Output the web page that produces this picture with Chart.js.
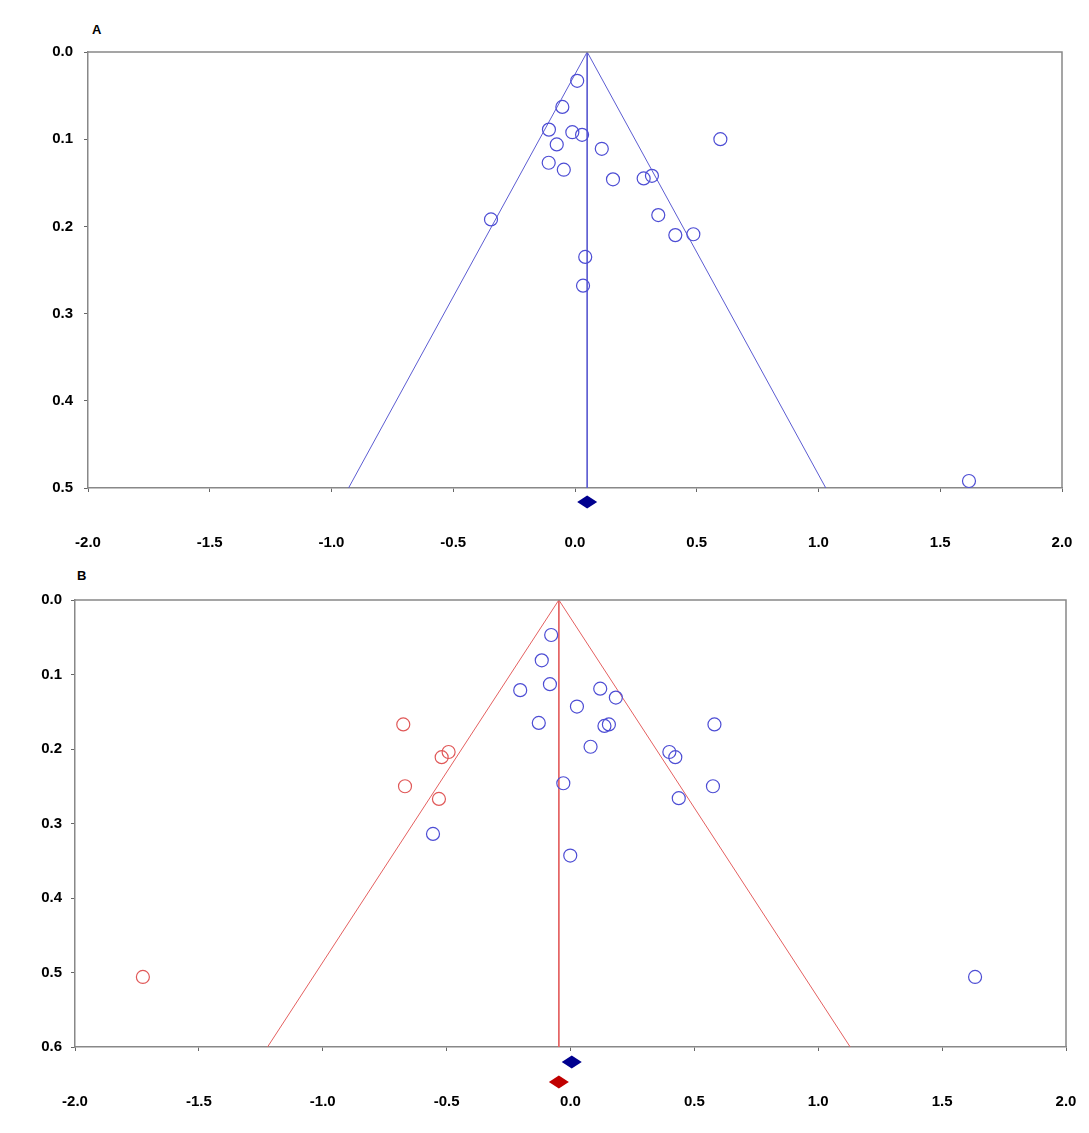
<!DOCTYPE html>
<html>
<head>
<meta charset="utf-8">
<script src="https://cdn.jsdelivr.net/npm/chart.js@4.4.0/dist/chart.umd.min.js"></script>
<style>
body{margin:0;background:#fff;width:1089px;height:1133px;position:relative;overflow:hidden;font-family:"Liberation Sans",Arial,sans-serif}
.panel{position:absolute;left:0;width:1089px}
.tag{position:absolute;font-weight:bold;font-size:13px;color:#000}
</style>
</head>
<body>
<div class="tag" style="left:92px;top:22px">A</div>
<div class="panel" style="top:0;height:560px"><canvas id="ca"></canvas></div>
<div class="tag" style="left:77px;top:568px">B</div>
<div class="panel" style="top:560px;height:573px"><canvas id="cb"></canvas></div>
<script>
// panel A - observed studies (effect size vs standard error)
const aEffect = [0.009,-0.052,-0.107,-0.011,0.029,-0.075,0.110,0.597,-0.108,-0.046,0.156,0.282,0.316,-0.345,0.342,0.412,0.486,0.042,0.033,1.618]
const aSE     = [0.033,0.063,0.089,0.092,0.095,0.106,0.111,0.100,0.127,0.135,0.146,0.145,0.142,0.192,0.187,0.210,0.209,0.235,0.268,0.492]
const aMean = 0.05
const aSEMax = 0.5

// panel B - observed + trim-and-fill imputed studies
const bEffect = [-0.078,-0.116,-0.083,-0.203,0.120,0.183,0.026,-0.128,0.137,0.155,0.081,0.399,0.423,-0.029,0.437,-0.555,-0.001,0.581,0.575,1.633]
const bSE     = [0.047,0.081,0.113,0.121,0.119,0.131,0.143,0.165,0.169,0.167,0.197,0.204,0.211,0.246,0.266,0.314,0.343,0.167,0.250,0.506]
const bFillEffect = [-0.675,-0.492,-0.520,-0.668,-0.531,-1.726]
const bFillSE     = [0.167,0.204,0.211,0.250,0.267,0.506]
const bMeanObserved = 0.005
const bMeanAdjusted = -0.047
const bSEMax = 0.6

const xMin = -2.0, xMax = 2.0, xStep = 0.5
const yStep = 0.1

const BLUE = '#4d4dd4'
const BLUE_LINE = '#5c5cd2'
const RED = '#e05858'
const RED_LINE = '#e46060'
const FONT = {family:'"Liberation Sans", Arial, sans-serif', size:15, weight:'bold'}

function pts(xs, ys){ return xs.map((x,i)=>({x:x,y:ys[i]})) }

function funnel(mean, seMax){
    return [{x:mean-1.96*seMax,y:seMax},{x:mean,y:0},{x:mean+1.96*seMax,y:seMax}]
}

function fmt(v){ return (Math.abs(v)<1e-9?0:v).toFixed(1) }

// box on top and right of the plot
const boxPlugin = {
    id:'box',
    afterDraw(chart){
        const c = chart.ctx, a = chart.chartArea
        c.save()
        c.strokeStyle = '#888'
        c.lineWidth = 1.5
        c.beginPath()
        c.moveTo(a.left,a.top); c.lineTo(a.right,a.top); c.lineTo(a.right,a.bottom)
        c.stroke()
        c.restore()
    }
}

// pooled estimate diamonds under the x axis
const diamondPlugin = {
    id:'diamonds',
    afterDraw(chart, args, opts){
        const c = chart.ctx, a = chart.chartArea
        const xs = chart.scales.x
        ;(opts.items||[]).forEach(d=>{
            const px = xs.getPixelForValue(d.value)
            const py = a.bottom + d.offset
            c.save()
            c.fillStyle = d.color
            c.beginPath()
            c.moveTo(px-10,py); c.lineTo(px,py-6.5); c.lineTo(px+10,py); c.lineTo(px,py+6.5)
            c.closePath()
            c.fill()
            c.restore()
        })
    }
}

function makeChart(id, conf){
    return new Chart(document.getElementById(id), {
        type:'scatter',
        data:{datasets:conf.datasets},
        options:{
            responsive:true,
            maintainAspectRatio:false,
            animation:false,
            layout:{padding:{top:conf.top,right:conf.right,left:0,bottom:0}},
            plugins:{
                legend:{display:false},
                tooltip:{enabled:false},
                diamonds:{items:conf.diamonds}
            },
            scales:{
                x:{
                    type:'linear', min:xMin, max:xMax,
                    ticks:{stepSize:xStep, padding:42, color:'#000', font:FONT, callback:fmt, maxRotation:0, autoSkip:false},
                    grid:{drawOnChartArea:false, drawTicks:true, tickLength:4, color:'#666'},
                    border:{color:'#888', width:1.5},
                    afterFit(s){
                        s.height = conf.xh
                        // the tick padding is only meant to push labels down
                        s.paddingLeft = 12
                        s.paddingRight = 12
                    }
                },
                y:{
                    type:'linear', reverse:true, min:0, max:conf.yMax,
                    ticks:{stepSize:yStep, padding:conf.ypad, color:'#000', font:FONT, callback:fmt},
                    grid:{drawOnChartArea:false, drawTicks:true, tickLength:4, color:'#666'},
                    border:{color:'#888', width:1.5},
                    afterFit(s){ s.width = conf.yw }
                }
            }
        },
        plugins:[boxPlugin, diamondPlugin]
    })
}

function lineSet(data, color){
    return {type:'line', data:data, borderColor:color, borderWidth:1, pointRadius:0, fill:false, tension:0, order:2}
}
function circleSet(data, color){
    return {data:data, borderColor:color, backgroundColor:'rgba(0,0,0,0)', borderWidth:1.2, pointRadius:6.5, pointHoverRadius:6.5, order:1, clip:false}
}

makeChart('ca', {
    top:52, right:27, yw:88, ypad:11, xh:72, yMax:aSEMax,
    datasets:[
        lineSet(funnel(aMean,aSEMax), BLUE_LINE),
        lineSet([{x:aMean,y:0},{x:aMean,y:aSEMax}], BLUE_LINE),
        circleSet(pts(aEffect,aSE), BLUE)
    ],
    diamonds:[{value:aMean, offset:14, color:'#00008f'}]
})

makeChart('cb', {
    top:40, right:23, yw:75, ypad:9, xh:86, yMax:bSEMax,
    datasets:[
        lineSet(funnel(bMeanAdjusted,bSEMax), RED_LINE),
        lineSet([{x:bMeanAdjusted,y:0},{x:bMeanAdjusted,y:bSEMax}], RED_LINE),
        circleSet(pts(bEffect,bSE), BLUE),
        circleSet(pts(bFillEffect,bFillSE), RED)
    ],
    diamonds:[
        {value:bMeanObserved, offset:15, color:'#00008f'},
        {value:bMeanAdjusted, offset:35, color:'#c00000'}
    ]
})
</script>
</body>
</html>
